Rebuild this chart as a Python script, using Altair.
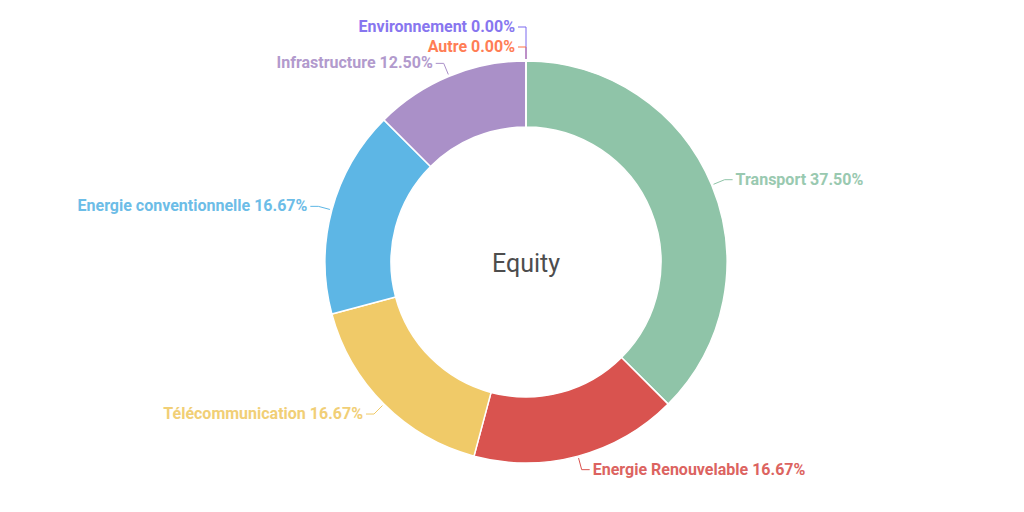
import math
import altair as alt
import pandas as pd

categories = ["Transport", "Energie Renouvelable", "Télécommunication",
              "Energie conventionnelle", "Infrastructure", "Autre", "Environnement"]
values = [37.50, 16.67, 16.67, 16.67, 12.50, 0.00, 0.00]
colors = ["#8fc4a8", "#d9534f", "#f0ca68", "#5db6e5", "#aa90c8", "#ff7043", "#7b68ee"]
center_title = "Equity"

# layout constants (pixels)
W, H = 1008, 496
CX, CY = 518, 254
R_OUT, R_IN = 201, 135
R_LABEL = 215

# simple label collision layout: push a label outward if it sits too close
# to the previous label on the same side
total = sum(values)
cum = 0.0
mids = []
for v in values:
    mids.append((cum + v / 2) / total * 2 * math.pi)
    cum += v
radii = []
prev = {"L": None, "R": None}
for m in mids:
    side = "L" if m >= math.pi else "R"
    r = R_LABEL
    while prev[side] is not None and abs((CY - r * math.cos(m)) - prev[side]) < 15:
        r += 20
    prev[side] = CY - r * math.cos(m)
    radii.append(r)

df = pd.DataFrame({
    "category": categories,
    "value": values,
    "order": list(range(len(categories))),
    "lr": radii,
})
df["label"] = [f"{c} {v:.2f}%" for c, v in zip(categories, values)]

base = alt.Chart(df)
color = alt.Color("category:N", scale=alt.Scale(domain=categories, range=colors), legend=None)

arcs = base.mark_arc(outerRadius=R_OUT, innerRadius=R_IN, stroke="white", strokeWidth=1.5).encode(
    theta=alt.Theta("value:Q", stack=True),
    order=alt.Order("order:Q"),
    color=color,
    x=alt.value(CX),
    y=alt.value(CY),
)

geo = base.transform_joinaggregate(
    total="sum(value)"
).transform_window(
    cum="sum(value)", sort=[alt.SortField("order")], frame=[None, 0]
).transform_calculate(
    mid="(datum.cum - datum.value / 2) / datum.total * 2 * PI",
).transform_calculate(
    side="datum.mid >= PI - 1e-9 ? -1 : 1",
    x0=f"{CX} + {R_OUT + 2} * sin(datum.mid)",
    y0=f"{CY} - {R_OUT + 2} * cos(datum.mid)",
    x1=f"{CX} + datum.lr * sin(datum.mid)",
    y1=f"{CY} - datum.lr * cos(datum.mid)",
).transform_calculate(
    x2="datum.x1 + datum.side * 8",
    xt="datum.x1 + datum.side * 11",
)

radial = geo.mark_rule(strokeWidth=1).encode(
    x=alt.X("x0:Q", scale=None), y=alt.Y("y0:Q", scale=None),
    x2="x1:Q", y2="y1:Q", color=color,
)
horiz = geo.mark_rule(strokeWidth=1).encode(
    x=alt.X("x1:Q", scale=None), y=alt.Y("y1:Q", scale=None),
    x2="x2:Q", y2="y1:Q", color=color,
)

txt_style = dict(font="Roboto", fontSize=16, fontWeight="bold", baseline="middle", opacity=0.9)
right_labels = geo.transform_filter("datum.side > 0").mark_text(align="left", **txt_style).encode(
    x=alt.X("xt:Q", scale=None), y=alt.Y("y1:Q", scale=None), text="label:N", color=color,
)
left_labels = geo.transform_filter("datum.side < 0").mark_text(align="right", **txt_style).encode(
    x=alt.X("xt:Q", scale=None), y=alt.Y("y1:Q", scale=None), text="label:N", color=color,
)

center = alt.Chart(pd.DataFrame({"t": [center_title]})).mark_text(
    font="Roboto", fontSize=25, fontWeight="normal", color="#4d4d4d", align="center", baseline="middle"
).encode(x=alt.value(CX), y=alt.value(CY + 2), text="t:N")

chart = alt.layer(arcs, radial, horiz, right_labels, left_labels, center).properties(
    width=W, height=H, autosize=alt.AutoSizeParams(type="none"), padding=0
).configure_view(stroke=None)

chart.save("out.html", embed_options={"renderer": "svg", "actions": False})
